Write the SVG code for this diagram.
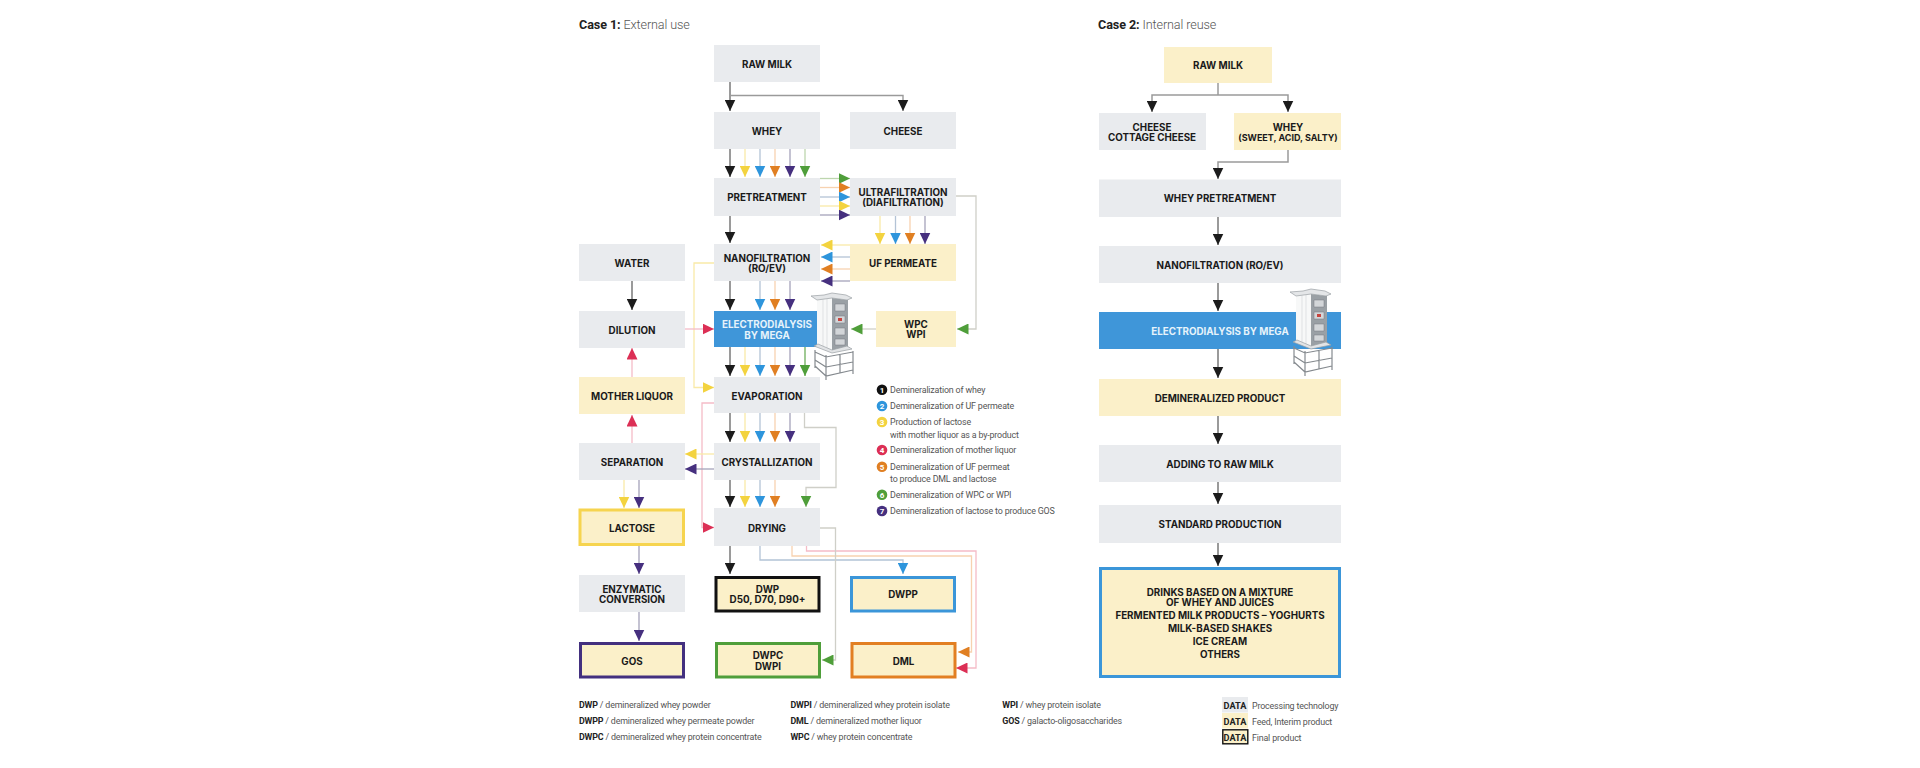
<svg xmlns="http://www.w3.org/2000/svg" xmlns:xlink="http://www.w3.org/1999/xlink" width="1920" height="768" viewBox="0 0 1920 768">
<style>
text{font-family:"Roboto","Liberation Sans",sans-serif}
.g{fill:#e9ebee}.y{fill:#fbf0c9}.b{fill:#3f96d9}
.bd{stroke-width:3}
.t{font-family:"Inter","Liberation Sans",sans-serif;font-weight:700;font-size:9.8px;text-anchor:middle;fill:#1a1a1a}
.tw{fill:#e6f3fb}
.h{font-size:12.6px;fill:#555;font-weight:300;letter-spacing:-.1px}
.h tspan{font-weight:700;fill:#222}
.l{font-size:8.9px;fill:#555;letter-spacing:-.17px}
.l tspan{font-weight:700;fill:#222}
.n{font-size:8px;font-weight:700;fill:#fff;text-anchor:middle}
.d{font-size:9.2px;font-weight:700;fill:#222;text-anchor:middle}
#connectors path{fill:none;stroke-width:1.3}
#connectors .k{stroke:#9a9a9a;stroke-width:2;marker-end:url(#mk)}
#connectors .ye{stroke:#f9eaa8;marker-end:url(#my)}
#connectors .bl{stroke:#b3c3d6;marker-end:url(#mb)}
#connectors .or{stroke:#f7d2b0;marker-end:url(#mo)}
#connectors .pu{stroke:#a5a2ba;marker-end:url(#mp)}
#connectors .gr{stroke:#bdd6ae;marker-end:url(#mg)}
#connectors .re{stroke:#f5bcc7;marker-end:url(#mr)}
#connectors .gg{stroke:#cfcfc8;marker-end:url(#mg)}
</style>
<defs>
<marker id="mk" markerUnits="userSpaceOnUse" markerWidth="12" markerHeight="11" refX="11.5" refY="5.5" orient="auto"><path d="M0 0L11.5 5.5L0 11Z" fill="#1c1c1c"/></marker>
<marker id="my" markerUnits="userSpaceOnUse" markerWidth="12" markerHeight="11" refX="11.5" refY="5.5" orient="auto"><path d="M0 0L11.5 5.5L0 11Z" fill="#f3d33f"/></marker>
<marker id="mb" markerUnits="userSpaceOnUse" markerWidth="12" markerHeight="11" refX="11.5" refY="5.5" orient="auto"><path d="M0 0L11.5 5.5L0 11Z" fill="#2e95dc"/></marker>
<marker id="mo" markerUnits="userSpaceOnUse" markerWidth="12" markerHeight="11" refX="11.5" refY="5.5" orient="auto"><path d="M0 0L11.5 5.5L0 11Z" fill="#e07f22"/></marker>
<marker id="mp" markerUnits="userSpaceOnUse" markerWidth="12" markerHeight="11" refX="11.5" refY="5.5" orient="auto"><path d="M0 0L11.5 5.5L0 11Z" fill="#46307f"/></marker>
<marker id="mg" markerUnits="userSpaceOnUse" markerWidth="12" markerHeight="11" refX="11.5" refY="5.5" orient="auto"><path d="M0 0L11.5 5.5L0 11Z" fill="#4f9e3a"/></marker>
<marker id="mr" markerUnits="userSpaceOnUse" markerWidth="12" markerHeight="11" refX="11.5" refY="5.5" orient="auto"><path d="M0 0L11.5 5.5L0 11Z" fill="#dc2f55"/></marker>
<g id="machine">
<path d="M817 300L832 298V351L817 346Z" fill="#f7f8f8"/>
<path d="M823 299.500V348M827 299V349" stroke="#dfe1e3" stroke-width="1" fill="none"/>
<path d="M832 298L848 300V349L832 351Z" fill="#9aa0a5"/>
<path d="M835 304h10v7h-10zM835 316h10v7h-10zM835 328h10v7h-10zM835 339h10v6h-10z" fill="#d3d6d9" stroke="#767b80" stroke-width=".5"/>
<path d="M838 318h4v3h-4z" fill="#c7453f"/>
<path d="M811 296L824 295L832 293L846 295L852 298L847 300L832 298L817 300Z" fill="#e4e6e8" stroke="#9a9fa4" stroke-width=".7"/>
<path d="M814 346L832 353L852 349L847 346L832 350L818 344Z" fill="#e2e4e6" stroke="#9a9fa4" stroke-width=".7"/>
<path d="M815 350V368M826 355V380M853 351V374M815 352L826 357L853 352M815 366L826 376L853 370M826 367L853 362M815 360L826 367M840 354V373" fill="none" stroke="#858a8f" stroke-width="1.2"/>
</g>
</defs>
<rect width="1920" height="768" fill="#fff"/>

<text class="h" x="579" y="29"><tspan>Case 1:</tspan> External use</text>
<text class="h" x="1098" y="29"><tspan>Case 2:</tspan> Internal reuse</text>

<g id="connectors">
<path class="k" d="M730 82V111"/><path class="k" d="M730 95.500H903V111" style="stroke-width:1.4"/>
<path class="k" d="M730 149V177"/><path class="ye" d="M745 149V177"/><path class="bl" d="M760 149V177"/><path class="or" d="M775 149V177"/><path class="pu" d="M790 149V177"/><path class="gr" d="M805 149V177"/>
<path class="gr" d="M820 178.500H850"/><path class="or" d="M820 187.500H850"/><path class="bl" d="M820 197H850"/><path class="ye" d="M820 206H850"/><path class="pu" d="M820 215H850"/>
<path class="k" d="M730 216V243"/>
<path class="ye" d="M880 216V244"/><path class="bl" d="M895.500 216V244"/><path class="or" d="M910 216V244"/><path class="pu" d="M925 216V244"/>
<path class="gg" d="M956 196H976V329H957"/>
<path class="ye" d="M850 245H821"/><path class="bl" d="M850 257H821"/><path class="or" d="M850 269H821"/><path class="pu" d="M850 281H821"/>
<path class="ye" d="M714 263H694V387.500H714"/>
<path class="k" d="M730 281V310"/><path class="bl" d="M760 281V310"/><path class="or" d="M775 281V310"/><path class="pu" d="M790 281V310"/>
<path class="re" d="M685 329H714"/>
<path class="k" d="M632 281V310"/>
<path class="re" d="M632 377V348"/><path class="re" d="M632 443V415"/>
<path class="gg" d="M876 329H851"/>
<path class="k" d="M730 347V376"/><path class="ye" d="M745 347V376"/><path class="bl" d="M760 347V376"/><path class="or" d="M775 347V376"/><path class="pu" d="M790 347V376"/><path class="gr" d="M805 347V376" style="stroke:#6dae5a"/>
<path class="k" d="M730 413V442"/><path class="ye" d="M745 413V442"/><path class="bl" d="M760 413V442"/><path class="or" d="M775 413V442"/><path class="pu" d="M790 413V442"/>
<path class="gg" d="M804.500 413V427.500H836V487.500H806V507"/>
<path class="re" d="M714 403H702V527.500H714"/>
<path class="ye" d="M714 454H685"/><path class="pu" d="M714 469H685"/>
<path class="k" d="M730 480V507"/><path class="ye" d="M745 480V507"/><path class="bl" d="M760 480V507"/><path class="or" d="M775 480V507"/>
<path class="ye" d="M624 480V508"/><path class="pu" d="M639 480V508"/>
<path class="pu" d="M639 546V574"/><path class="pu" d="M639 612V641"/>
<path class="k" d="M730 546V574"/>
<path class="bl" d="M760 546V560H903V574"/>
<path class="or" d="M792 546V556H971.500V652H958"/>
<path class="re" d="M806.500 546V551H976V668H956"/>
<path class="gg" d="M820 528H835.500V660H822"/>

<path class="k" d="M1218 83V95" style="marker-end:none;stroke-width:1.5"/>
<path class="k" d="M1218 95H1152V112" style="stroke-width:1.5"/><path class="k" d="M1218 95H1288V112" style="stroke-width:1.5"/>
<path class="k" d="M1288 150V162H1218V179" style="stroke-width:1.5"/>
<path class="k" d="M1218 217V245"/><path class="k" d="M1218 283V311"/><path class="k" d="M1218 349V378"/><path class="k" d="M1218 416V444"/><path class="k" d="M1218 482V504"/><path class="k" d="M1218 543V566"/>
</g>

<g id="n-rawmilk1"><rect class="g" x="714" y="45" width="106" height="37"/><text class="t" x="767" y="68">RAW MILK</text></g>
<g id="n-whey1"><rect class="g" x="714" y="112" width="106" height="37"/><text class="t" x="767" y="135">WHEY</text></g>
<g id="n-cheese1"><rect class="g" x="850" y="112" width="106" height="37"/><text class="t" x="903" y="135">CHEESE</text></g>
<g id="n-pretreat"><rect class="g" x="714" y="178" width="106" height="38"/><text class="t" x="767" y="201">PRETREATMENT</text></g>
<g id="n-uf"><rect class="g" x="850" y="178" width="106" height="38"/><text class="t" x="903" y="196">ULTRAFILTRATION<tspan x="903" y="206">(DIAFILTRATION)</tspan></text></g>
<g id="n-nano"><rect class="g" x="714" y="244" width="106" height="37"/><text class="t" x="767" y="262">NANOFILTRATION<tspan x="767" y="272">(RO/EV)</tspan></text></g>
<g id="n-ufperm"><rect class="y" x="850" y="244" width="106" height="37"/><text class="t" x="903" y="267">UF PERMEATE</text></g>
<g id="n-water"><rect class="g" x="579" y="244" width="106" height="37"/><text class="t" x="632" y="267">WATER</text></g>
<g id="n-dilution"><rect class="g" x="579" y="311" width="106" height="37"/><text class="t" x="632" y="333.500">DILUTION</text></g>
<g id="n-ed1"><rect class="b" x="714" y="311" width="103" height="36"/><text class="t tw" x="767" y="328">ELECTRODIALYSIS<tspan x="767" y="339">BY MEGA</tspan></text></g>
<g id="n-machine1"><use href="#machine" xlink:href="#machine"/></g>
<g id="n-wpc"><rect class="y" x="876" y="311" width="80" height="36"/><text class="t" x="916" y="327.500">WPC<tspan x="916" y="338">WPI</tspan></text></g>
<g id="n-mother"><rect class="y" x="579" y="377" width="106" height="37"/><text class="t" x="632" y="400">MOTHER LIQUOR</text></g>
<g id="n-evap"><rect class="g" x="714" y="377" width="106" height="36"/><text class="t" x="767" y="399.500">EVAPORATION</text></g>
<g id="n-sep"><rect class="g" x="579" y="443" width="106" height="37"/><text class="t" x="632" y="466">SEPARATION</text></g>
<g id="n-cryst"><rect class="g" x="714" y="443" width="106" height="37"/><text class="t" x="767" y="466">CRYSTALLIZATION</text></g>
<g id="n-lactose"><rect class="y bd" x="580" y="510" width="103.500" height="34.500" stroke="#f6d44f"/><text class="t" x="632" y="532">LACTOSE</text></g>
<g id="n-drying"><rect class="g" x="714" y="508" width="106" height="38"/><text class="t" x="767" y="532">DRYING</text></g>
<g id="n-enz"><rect class="g" x="579" y="575" width="106" height="37"/><text class="t" x="632" y="593">ENZYMATIC<tspan x="632" y="603">CONVERSION</tspan></text></g>
<g id="n-dwp"><rect class="y bd" x="716" y="577.500" width="103" height="33.500" stroke="#111"/><text class="t" x="767.500" y="593">DWP<tspan x="767.500" y="603">D50, D70, D90+</tspan></text></g>
<g id="n-dwpp"><rect class="y bd" x="851.500" y="577.500" width="103" height="33.500" stroke="#3b96d9"/><text class="t" x="903" y="598">DWPP</text></g>
<g id="n-gos"><rect class="y bd" x="580.500" y="643.500" width="103" height="33.500" stroke="#43307f"/><text class="t" x="632" y="664.500">GOS</text></g>
<g id="n-dwpc"><rect class="y bd" x="716.500" y="643.500" width="103" height="33.500" stroke="#4f9e3a"/><text class="t" x="768" y="659">DWPC<tspan x="768" y="669.500">DWPI</tspan></text></g>
<g id="n-dml"><rect class="y bd" x="852" y="643.500" width="103" height="33.500" stroke="#e27f22"/><text class="t" x="903.500" y="664.500">DML</text></g>

<g id="n-rawmilk2"><rect class="y" x="1164" y="47" width="108" height="36"/><text class="t" x="1218" y="69">RAW MILK</text></g>
<g id="n-cheese2"><rect class="g" x="1099" y="113" width="107" height="37"/><text class="t" x="1152" y="131">CHEESE<tspan x="1152" y="141">COTTAGE CHEESE</tspan></text></g>
<g id="n-whey2"><rect class="y" x="1234" y="113" width="107" height="37"/><text class="t" x="1288" y="131">WHEY<tspan x="1288" y="141" style="font-size:9px">(SWEET, ACID, SALTY)</tspan></text></g>
<g id="n-wpt"><rect class="g" x="1099" y="179.500" width="242" height="37.500"/><text class="t" x="1220" y="202">WHEY PRETREATMENT</text></g>
<g id="n-nano2"><rect class="g" x="1099" y="246" width="242" height="37"/><text class="t" x="1220" y="269">NANOFILTRATION (RO/EV)</text></g>
<g id="n-ed2"><rect class="b" x="1099" y="312" width="242" height="37"/><text class="t tw" x="1220" y="335">ELECTRODIALYSIS BY MEGA</text></g>
<g id="n-machine2"><use href="#machine" xlink:href="#machine" transform="translate(479,-4)"/></g>
<g id="n-demin"><rect class="y" x="1099" y="379" width="242" height="37"/><text class="t" x="1220" y="401.500">DEMINERALIZED PRODUCT</text></g>
<g id="n-adding"><rect class="g" x="1099" y="445" width="242" height="37"/><text class="t" x="1220" y="467.500">ADDING TO RAW MILK</text></g>
<g id="n-standard"><rect class="g" x="1099" y="505" width="242" height="38"/><text class="t" x="1220" y="528">STANDARD PRODUCTION</text></g>
<g id="n-final"><rect class="y bd" x="1100.500" y="568.500" width="239" height="108" stroke="#3b96d9"/><text class="t" x="1220" y="595.500">DRINKS BASED ON A MIXTURE<tspan x="1220" y="606">OF WHEY AND JUICES</tspan><tspan x="1220" y="619">FERMENTED MILK PRODUCTS – YOGHURTS</tspan><tspan x="1220" y="632">MILK-BASED SHAKES</tspan><tspan x="1220" y="645">ICE CREAM</tspan><tspan x="1220" y="657.500">OTHERS</tspan></text></g>

<g id="legend-cases">
<circle cx="882" cy="389.700" r="5.300" fill="#111"/><text class="n" x="882" y="392.500">1</text><text class="l" x="890" y="393">Demineralization of whey</text>
<circle cx="882" cy="406" r="5.300" fill="#2e95dc"/><text class="n" x="882" y="408.800">2</text><text class="l" x="890" y="409.300">Demineralization of UF permeate</text>
<circle cx="882" cy="422" r="5.300" fill="#f3d33f"/><text class="n" x="882" y="424.800">3</text><text class="l" x="890" y="425.300">Production of lactose</text><text class="l" x="890" y="437.500">with mother liquor as a by-product</text>
<circle cx="882" cy="450" r="5.300" fill="#dc2f55"/><text class="n" x="882" y="452.800">4</text><text class="l" x="890" y="453.300">Demineralization of mother liquor</text>
<circle cx="882" cy="466.700" r="5.300" fill="#e07f22"/><text class="n" x="882" y="469.500">5</text><text class="l" x="890" y="470">Demineralization of UF permeat</text><text class="l" x="890" y="482.300">to produce DML and lactose</text>
<circle cx="882" cy="494.700" r="5.300" fill="#4f9e3a"/><text class="n" x="882" y="497.500">6</text><text class="l" x="890" y="498">Demineralization of WPC or WPI</text>
<circle cx="882" cy="511" r="5.300" fill="#46307f"/><text class="n" x="882" y="513.800">7</text><text class="l" x="890" y="514.300">Demineralization of lactose to produce GOS</text>
</g>

<g id="abbrev">
<text class="l" x="579" y="707.500"><tspan>DWP</tspan> / demineralized whey powder</text>
<text class="l" x="579" y="724"><tspan>DWPP</tspan> / demineralized whey permeate powder</text>
<text class="l" x="579" y="740.300"><tspan>DWPC</tspan> / demineralized whey protein concentrate</text>
<text class="l" x="790.500" y="707.500"><tspan>DWPI</tspan> / demineralized whey protein isolate</text>
<text class="l" x="790.500" y="724"><tspan>DML</tspan> / demineralized mother liquor</text>
<text class="l" x="790.500" y="740.300"><tspan>WPC</tspan> / whey protein concentrate</text>
<text class="l" x="1002.300" y="707.500"><tspan>WPI</tspan> / whey protein isolate</text>
<text class="l" x="1002.300" y="724"><tspan>GOS</tspan> / galacto-oligosaccharides</text>
</g>

<g id="legend-data">
<rect class="g" x="1222" y="697" width="26" height="15.500"/><text class="d" x="1235" y="708.500">DATA</text><text class="l" x="1252" y="708.500">Processing technology</text>
<rect class="y" x="1222" y="713" width="26" height="15.500"/><text class="d" x="1235" y="724.500">DATA</text><text class="l" x="1252" y="724.500">Feed, Interim product</text>
<rect class="y" x="1222.800" y="729.800" width="25" height="14" stroke="#111" stroke-width="1.400"/><text class="d" x="1235" y="740.500">DATA</text><text class="l" x="1252" y="740.500">Final product</text>
</g>
</svg>
